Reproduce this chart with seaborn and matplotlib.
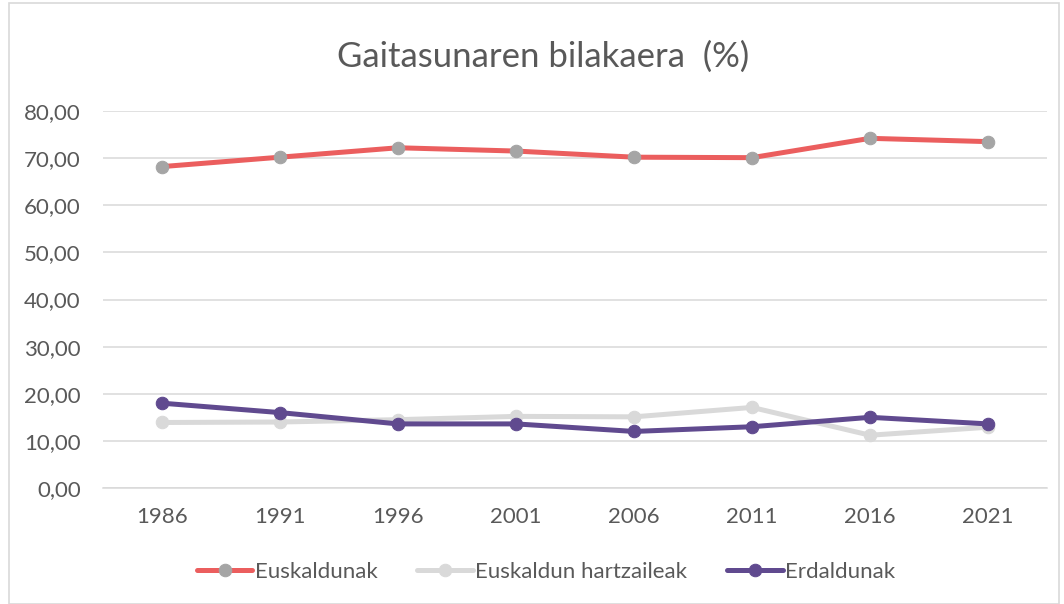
import pandas as pd
import matplotlib
matplotlib.use("Agg")
import matplotlib.pyplot as plt
import seaborn as sns
from matplotlib.ticker import FuncFormatter
from matplotlib.patches import Rectangle

# Data
years = ["1986", "1991", "1996", "2001", "2006", "2011", "2016", "2021"]
euskaldunak = [68.2, 70.2, 72.2, 71.5, 70.2, 70.1, 74.2, 73.5]
hartzaileak = [13.9, 14.0, 14.5, 15.2, 15.1, 17.1, 11.2, 12.9]
erdaldunak = [18.0, 16.0, 13.6, 13.6, 12.0, 13.0, 15.0, 13.6]

series_names = ["Euskaldunak", "Euskaldun hartzaileak", "Erdaldunak"]
line_colors = ["#EB5E5E", "#D9D9D9", "#604A8F"]
marker_colors = ["#A5A5A5", "#D9D9D9", "#604A8F"]

sns.set_theme(style="white")
plt.rcParams['font.family'] = ['Lato', 'DejaVu Sans']
text_color = "#595959"

fig = plt.figure(figsize=(10.64, 6.04), dpi=100)
ax = fig.add_axes([103 / 1064, 1 - 488 / 604, (1047 - 103) / 1064, (488 - 111) / 604])

for name, vals, lc, mc in zip(series_names, [euskaldunak, hartzaileak, erdaldunak],
                              line_colors, marker_colors):
    df = pd.DataFrame({"Urtea": years, "Balioa": vals})
    sns.lineplot(data=df, x="Urtea", y="Balioa", ax=ax, color=lc, linewidth=3.6,
                 marker="o", markersize=9, markerfacecolor=mc, markeredgecolor=mc,
                 label=name, sort=False)

ax.set_xlim(-0.5, len(years) - 0.5)
ax.set_ylim(0, 80)
ax.set_yticks(range(0, 81, 10))
ax.yaxis.set_major_formatter(FuncFormatter(lambda v, p: f"{v:.2f}".replace(".", ",")))
ax.set_xlabel("")
ax.set_ylabel("")
ax.grid(axis="y", color="#D9D9D9", linewidth=1.1)
ax.grid(axis="x", visible=False)
ax.set_axisbelow(True)
for s in ["top", "right", "left"]:
    ax.spines[s].set_visible(False)
ax.spines["bottom"].set_color("#D9D9D9")
ax.spines["bottom"].set_linewidth(1.1)
ax.tick_params(axis="both", length=0, labelsize=16, labelcolor=text_color)
ax.tick_params(axis="y", pad=16)
ax.tick_params(axis="x", pad=14)

fig.text(0.51, 1 - 57 / 604, "Gaitasunaren bilakaera  (%)", ha="center", va="center",
         fontsize=25, color=text_color)

leg = ax.legend(loc="center", bbox_to_anchor=(546 / 1064, 1 - 572 / 604),
                bbox_transform=fig.transFigure, ncol=3, frameon=False,
                fontsize=16, handlelength=2.5, columnspacing=1.8, handletextpad=0.1)
for t in leg.get_texts():
    t.set_color(text_color)

fig.patches.append(Rectangle((9 / 1064, 0), 1050 / 1064, 1 - 3 / 604,
                             transform=fig.transFigure, fill=False,
                             edgecolor="#D9D9D9", linewidth=1.2))

fig.savefig("out.png", dpi=100)
